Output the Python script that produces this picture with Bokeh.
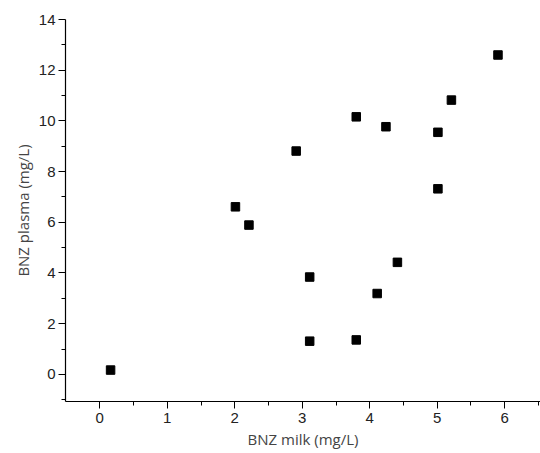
from bokeh.plotting import figure
from bokeh.models import Range1d, FixedTicker
from bokeh.embed import file_html
from bokeh.resources import INLINE

# Data
milk = [0.16, 2.01, 2.21, 2.91, 3.11, 3.11, 3.80, 3.80, 4.24, 4.11, 4.41, 5.01, 5.01, 5.21, 5.90]
plasma = [0.17, 6.61, 5.89, 8.81, 3.84, 1.31, 10.16, 1.36, 9.77, 3.19, 4.42, 9.55, 7.32, 10.82, 12.60]

x_ticks = [0, 1, 2, 3, 4, 5, 6]
x_minor = [0.5, 1.5, 2.5, 3.5, 4.5, 5.5, 6.5]
y_ticks = [0, 2, 4, 6, 8, 10, 12, 14]
y_minor = [-1, 1, 3, 5, 7, 9, 11, 13]

p = figure(width=540, height=453, output_backend="svg", toolbar_location=None,
           x_range=Range1d(-0.508, 6.53), y_range=Range1d(-1.07, 14),
           min_border_left=65, min_border_top=19, min_border_right=0, min_border_bottom=52)
p.outline_line_color = None
p.xgrid.visible = False
p.ygrid.visible = False
p.background_fill_color = "white"

p.scatter(milk, plasma, marker="square", size=8.5, color="black")

tick_font = "Liberation Sans"
title_font = "Open Sans"

xa = p.xaxis[0]
xa.ticker = FixedTicker(ticks=x_ticks, minor_ticks=x_minor)
xa.axis_label = "BNZ milk (mg/L)"
ya = p.yaxis[0]
ya.ticker = FixedTicker(ticks=y_ticks, minor_ticks=y_minor)
ya.axis_label = "BNZ plasma (mg/L)"

for ax in (xa, ya):
    ax.axis_line_color = "black"
    ax.axis_line_width = 1.2
    ax.major_tick_line_color = "black"
    ax.minor_tick_line_color = "black"
    ax.major_tick_in = 0
    ax.major_tick_out = 7
    ax.minor_tick_in = 0
    ax.minor_tick_out = 4
    ax.major_label_text_font = tick_font
    ax.major_label_text_font_size = "15px"
    ax.major_label_text_color = "#222222"
    ax.axis_label_text_font = title_font
    ax.axis_label_text_font_size = "15px"
    ax.axis_label_text_font_style = "normal"
    ax.axis_label_text_color = "#444444"

xa.major_label_standoff = 4
xa.axis_label_standoff = 3
ya.major_label_standoff = 3
ya.axis_label_standoff = 3

open("out.html", "w").write(file_html(p, INLINE))
